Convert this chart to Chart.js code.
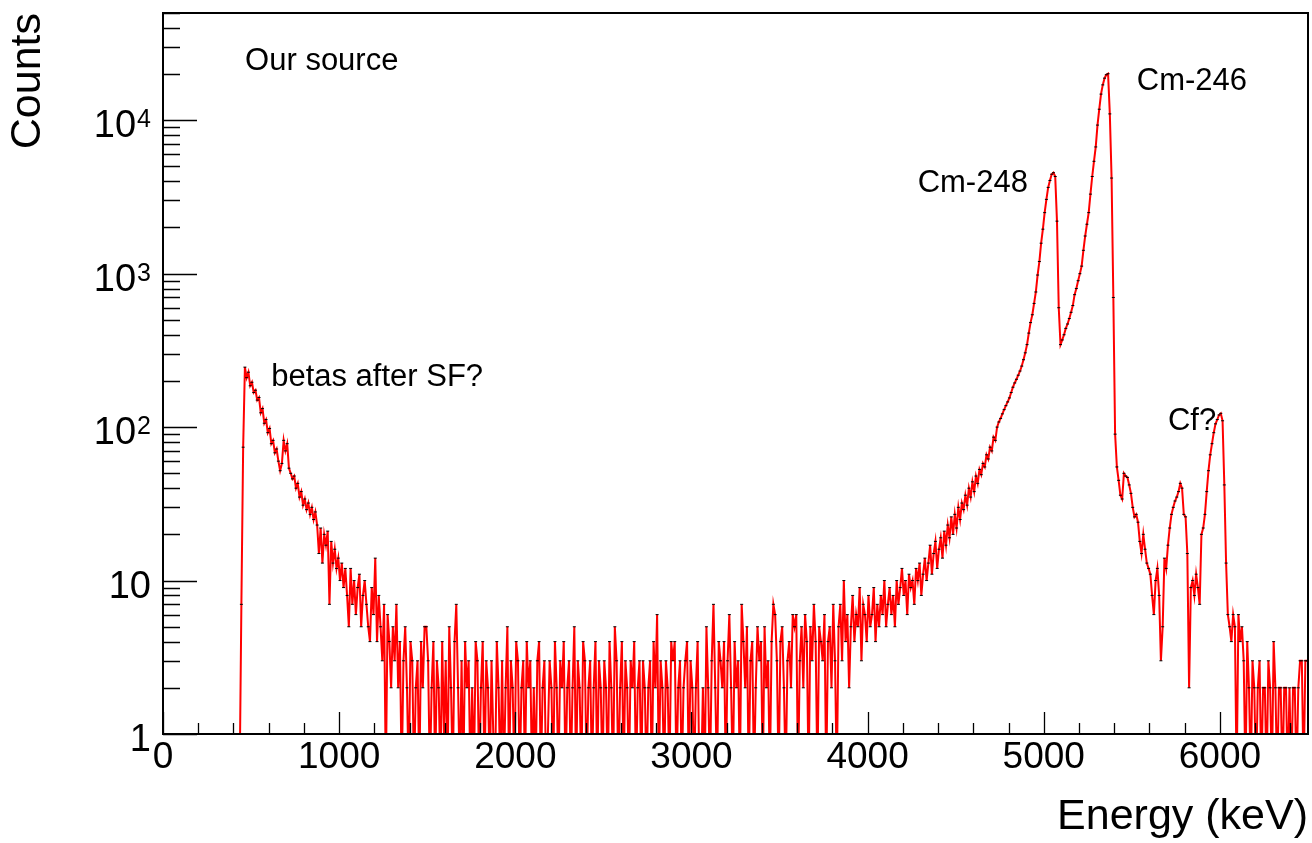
<!DOCTYPE html>
<html>
<head>
<meta charset="utf-8">
<title>Our source - energy spectrum</title>
<script src="https://cdn.jsdelivr.net/npm/chart.js@4.4.1/dist/chart.umd.min.js"></script>
<style>
  html, body { margin: 0; padding: 0; background: #fff; }
  #wrap { width: 1312px; height: 843px; }
</style>
</head>
<body>
<div id="wrap"><canvas id="spectrum" width="1312" height="843"></canvas></div>
<script>
'use strict';

// histogram: 10 keV bins, first bin starts at 430 keV
var binLow = 430;
var binWidth = 10;

// 430 - 1330 keV (betas)
var betaCounts = [0,
  7, 74, 246, 210, 228, 186, 196, 168, 174, 150,
  156, 124, 132, 106, 112, 92, 98, 78, 82, 68,
  72, 60, 52, 58, 82, 70, 78, 54, 50, 46,
  48, 40, 43, 35, 38, 31, 34, 29, 32, 27,
  30, 25, 28, 23, 15, 22, 13, 20, 17, 21,
  7, 18, 13, 16, 12, 14, 10, 13, 9, 12,
  8, 5, 12, 7, 10, 6, 9, 11, 5, 8,
  10, 7, 5, 4, 9, 6, 14, 4, 8, 5,
  3, 7, 0, 6, 4, 2, 5, 3, 7, 2];

// 1340 - 3830 keV (flat background)
var flatCounts = [
  4, 0, 3, 5, 2, 0, 4, 3, 0, 2,
  3, 0, 4, 2, 5, 5, 3, 0, 2, 4,
  0, 3, 2, 0, 4, 1, 3, 0, 5, 2,
  0, 4, 7, 2, 0, 3, 0, 4, 2, 3,
  0, 2, 0, 4, 3, 0, 2, 4, 0, 3,
  2, 0, 3, 1, 0, 4, 2, 0, 3, 0,
  2, 5, 0, 3, 2, 0, 4, 3, 0, 2,
  3, 0, 4, 2, 3, 0, 2, 0, 3, 4,
  0, 2, 3, 0, 1, 3, 2, 0, 4, 2,
  0, 3, 2, 4, 0, 2, 3, 0, 2, 5,
  0, 3, 2, 0, 4, 3, 0, 2, 3, 0,
  2, 4, 0, 3, 2, 0, 3, 2, 0, 4,
  2, 0, 5, 3, 0, 2, 4, 0, 3, 2,
  0, 3, 2, 4, 0, 2, 3, 0, 3, 2,
  0, 2, 3, 0, 4, 2, 6, 0, 3, 2,
  0, 3, 2, 0, 4, 3, 4, 0, 2, 3,
  0, 2, 3, 4, 0, 3, 2, 0, 2, 4,
  0, 0, 2, 0, 5, 2, 0, 3, 7, 2,
  0, 4, 3, 2, 4, 0, 3, 6, 2, 0,
  4, 2, 3, 0, 7, 4, 2, 5, 0, 3,
  4, 0, 2, 5, 3, 4, 0, 5, 2, 3,
  0, 4, 7, 6, 3, 0, 4, 5, 2, 0,
  3, 4, 2, 6, 5, 6, 0, 3, 5, 2,
  6, 4, 0, 5, 3, 7, 4, 0, 5, 4,
  3, 6, 0, 4, 5, 2, 7, 3, 0, 5];

// 3840 - 4830 keV (tail of the Cm lines)
var riseCounts = [
  7, 3, 10, 4, 6, 2, 5, 8, 4, 6,
  5, 9, 3, 7, 6, 4, 8, 5, 6, 9,
  4, 7, 5, 8, 6, 10, 5, 7, 9, 6,
  8, 5, 10, 7, 9, 12, 8, 10, 6, 11,
  9, 10, 7, 12, 10, 13, 8, 11, 14, 10,
  13, 17, 11, 15, 18, 12, 16, 19, 14, 21,
  17, 23, 19, 26, 20, 27, 22, 30, 25, 32,
  29, 36, 31, 40, 35, 44, 38, 48, 43, 53,
  49, 58, 55, 66, 62, 74, 70, 86, 82, 100,
  108, 114, 122, 130, 138, 146, 155, 168, 182, 194];

// 4840 - 5440 keV (Cm-248 and Cm-246)
var peakCounts = [
  205, 218, 232, 250, 275, 305, 345, 410, 480, 540,
  640, 760, 980, 1200, 1580, 1950, 2500, 3050, 3650, 4050,
  4450, 4550, 4300, 2200, 600, 345, 370, 400, 440, 470,
  510, 560, 620, 730, 800, 900, 1000, 1120, 1420, 1760,
  2100, 2500, 3300, 4300, 5400, 6700, 9300, 11800, 14800, 17000,
  18800, 19800, 20100, 11000, 4200, 700, 90, 55, 45, 36,
  34];

// 5450 - 6040 keV (Cf?)
var cfCounts = [
  50, 48, 47, 42, 37, 30, 26, 27, 24, 18,
  15, 20, 16, 13, 12, 11, 8, 6, 10, 12,
  8, 3, 5, 14, 12, 17, 22, 27, 30, 33,
  35, 38, 43, 40, 27, 26, 15, 2, 9, 10,
  8, 11, 9, 7, 20, 22, 27, 38, 52, 66,
  78, 92, 105, 112, 120, 123, 110, 42, 13, 6];

// 6050 - 6490 keV
var tailCounts = [
  5, 4, 6, 5, 0, 6, 4, 5, 3, 0,
  4, 2, 0, 3, 2, 0, 2, 3, 0, 2,
  2, 0, 3, 2, 0, 4, 2, 0, 2, 2,
  0, 2, 2, 0, 2, 0, 2, 2, 0, 2,
  3, 3, 0, 3, 3];

var xTickValues = [0, 1000, 2000, 3000, 4000, 5000, 6000];

var yDecades = [1, 10, 100, 1000, 10000];
var yDecadeBase = ['1', '10', '10', '10', '10'];
var yDecadeExp = ['', '', '2', '3', '4'];

var labelTexts = ['Our source', 'betas after SF?', 'Cm-248', 'Cm-246', 'Cf?'];
var labelEnergy = [466, 614, 4284, 5528, 5705];
var labelCounts = [21200, 185, 3410, 15700, 96];

var FONT = "'Liberation Sans', Arial, Helvetica, sans-serif";
Chart.defaults.font.family = FONT;
Chart.defaults.color = '#000';

// empty bins sit below the log axis
var zeroFloor = 0.5;

var counts = betaCounts.concat(flatCounts, riseCounts, peakCounts, cfCounts, tailCounts);
var points = counts.map(function (c, i) {
  return { x: binLow + (i + 0.5) * binWidth, y: c > 0 ? c : zeroFloor };
});

var rootStyle = {
  id: 'rootStyle',
  afterDatasetsDraw: function (chart) {
    var ctx = chart.ctx;
    var a = chart.chartArea;
    var xs = chart.scales.x;
    var ys = chart.scales.y;
    var e, d, m, p;

    ctx.save();
    ctx.strokeStyle = '#000';
    ctx.lineWidth = 1.3;
    ctx.beginPath();
    // x ticks, inward
    for (e = 0; e <= xs.max; e += 200) {
      p = Math.round(xs.getPixelForValue(e)) + 0.5;
      ctx.moveTo(p, a.bottom);
      ctx.lineTo(p, a.bottom - (e % 1000 === 0 ? 22 : 11));
    }
    // y ticks, inward
    for (d = 1; d <= ys.max; d *= 10) {
      for (m = 1; m <= 9; m++) {
        if (d * m > ys.max) break;
        p = Math.round(ys.getPixelForValue(d * m)) + 0.5;
        ctx.moveTo(a.left, p);
        ctx.lineTo(a.left + (m === 1 ? 34 : 17), p);
      }
    }
    ctx.stroke();

    ctx.lineWidth = 2;
    ctx.strokeRect(a.left, a.top, a.right - a.left, a.bottom - a.top);
    ctx.restore();
  },
  afterDraw: function (chart) {
    var ctx = chart.ctx;
    var xs = chart.scales.x;
    var ys = chart.scales.y;
    var i, y, right, supW;

    ctx.save();
    ctx.fillStyle = '#000';
    ctx.textBaseline = 'alphabetic';
    ctx.textAlign = 'right';
    // y decade labels with superscript exponents
    for (i = 0; i < yDecades.length; i++) {
      y = ys.getPixelForValue(yDecades[i]);
      right = 151;
      supW = 0;
      if (yDecadeExp[i]) {
        ctx.font = '25px ' + FONT;
        ctx.fillText(yDecadeExp[i], right, y + 7);
        supW = ctx.measureText(yDecadeExp[i]).width + 1;
      }
      ctx.font = '38px ' + FONT;
      ctx.fillText(yDecadeBase[i], right - supW, y + 17);
    }

    // peak labels
    ctx.textAlign = 'left';
    ctx.font = '31px ' + FONT;
    for (i = 0; i < labelTexts.length; i++) {
      ctx.fillText(labelTexts[i], xs.getPixelForValue(labelEnergy[i]), ys.getPixelForValue(labelCounts[i]));
    }
    ctx.restore();
  }
};

new Chart(document.getElementById('spectrum'), {
  type: 'line',
  data: {
    datasets: [{
      data: points,
      borderColor: '#ff0000',
      borderWidth: 2,
      tension: 0,
      pointStyle: 'line',
      pointRadius: function (c) { return c.raw && c.raw.y > zeroFloor ? 1.5 : 0; },
      pointHoverRadius: 0,
      pointBorderColor: '#000',
      pointBorderWidth: 1
    }]
  },
  options: {
    responsive: false,
    animation: false,
    devicePixelRatio: 1,
    events: [],
    layout: { padding: { top: 13, right: 4, left: 0, bottom: 0 } },
    plugins: { legend: { display: false }, tooltip: { enabled: false } },
    scales: {
      x: {
        type: 'linear',
        min: 0,
        max: 6500,
        grid: { display: false, drawTicks: false },
        border: { display: false },
        ticks: {
          autoSkip: false,
          maxRotation: 0,
          minRotation: 0,
          padding: 2,
          color: '#000',
          font: { size: 37 },
          callback: function (v) { return String(v); }
        },
        afterBuildTicks: function (s) {
          s.ticks = xTickValues.map(function (v) { return { value: v }; });
        },
        title: {
          display: true,
          text: 'Energy (keV)',
          align: 'end',
          color: '#000',
          font: { size: 43 },
          padding: 0
        },
        afterFit: function (s) {
          s.height = 109;
          s.paddingLeft = 0;
          s.paddingRight = 0;
        }
      },
      y: {
        type: 'logarithmic',
        min: 1,
        max: 50000,
        grid: { display: false, drawTicks: false },
        border: { display: false },
        ticks: { display: false },
        title: {
          display: true,
          text: 'Counts',
          align: 'end',
          color: '#000',
          font: { size: 43 },
          padding: { top: 2, bottom: 0 }
        },
        afterFit: function (s) { s.width = 163; }
      }
    }
  },
  plugins: [rootStyle]
});
</script>
</body>
</html>
